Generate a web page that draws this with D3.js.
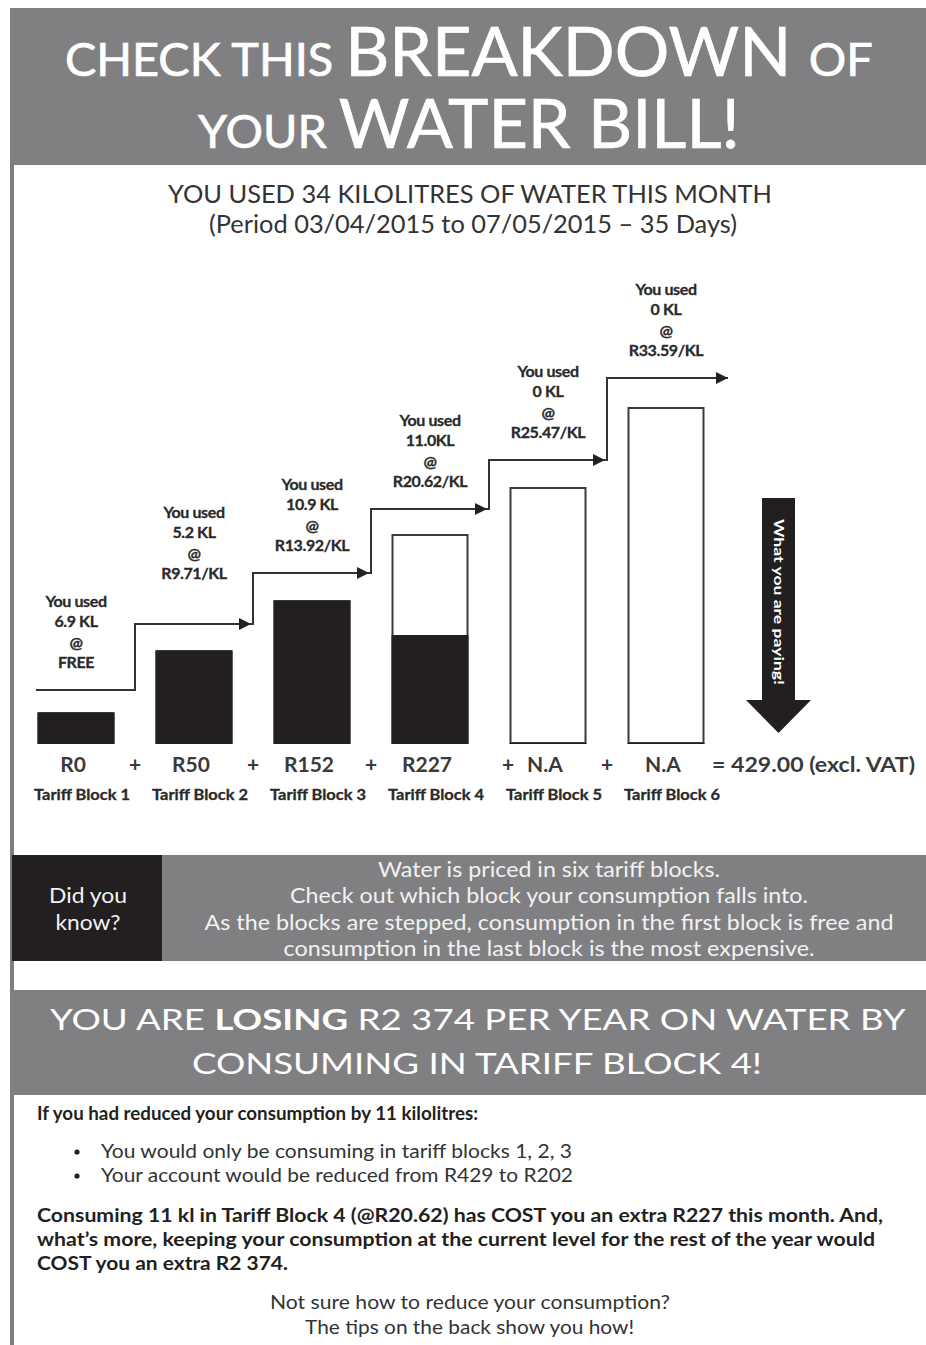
<!DOCTYPE html>
<html>
<head>
<meta charset="utf-8">
<title>Water bill breakdown</title>
<script src="https://cdn.jsdelivr.net/npm/d3@7"></script>
<style>
  html, body { margin: 0; padding: 0; background: #ffffff; }
  svg { display: block; }
</style>
</head>
<body>
<svg id="chart" width="926" height="1345"></svg>
<script>
// ---- data -------------------------------------------------------------
const blocks = ["Tariff Block 1", "Tariff Block 2", "Tariff Block 3",
                "Tariff Block 4", "Tariff Block 5", "Tariff Block 6"];
const usedText = ["6.9 KL", "5.2 KL", "10.9 KL", "11.0KL", "0 KL", "0 KL"];
const rateText = ["FREE", "R9.71/KL", "R13.92/KL", "R20.62/KL", "R25.47/KL", "R33.59/KL"];
const costText = ["R0", "R50", "R152", "R227", "N.A", "N.A"];
const totalText = "= 429.00 (excl. VAT)";
// bar heights (block size index) and the part of each block that was used
const blockSize = [30, 92, 142, 208, 255, 335];
const blockUsed = [30, 92, 142, 108, 0, 0];
// staircase showing the rising price per block
const priceStep = [53, 119, 170, 234, 283, 365];

const titleLines = [
  [["CHECK THIS ", 46], ["BREAKDOWN ", 67], ["OF", 46]],
  [["YOUR ", 46], ["WATER BILL!", 67]]
];
const tipLines = [
  "Water is priced in six tariff blocks.",
  "Check out which block your consumption falls into.",
  "As the blocks are stepped, consumption in the first block is free and",
  "consumption in the last block is the most expensive."
];
const bulletLines = [
  "You would only be consuming in tariff blocks 1, 2, 3",
  "Your account would be reduced from R429 to R202"
];
const costLines = [
  "Consuming 11 kl in Tariff Block 4 (@R20.62) has COST you an extra R227 this month. And,",
  "what\u2019s more, keeping your consumption at the current level for the rest of the year would",
  "COST you an extra R2 374."
];

// ---- setup ------------------------------------------------------------
const svg = d3.select("#chart");
const GRAY = "#808082", INK = "#231f20", TEXT = "#2a2a2a";
const FONT = "Lato, 'Open Sans', sans-serif";

// text with mixed tspans, squeezed/stretched to a given width
function fitLine(parent, parts, o) {
  const t = parent.append("text")
    .attr("fill", o.fill || TEXT)
    .attr("font-family", FONT);
  if (o.stroke) t.attr("stroke", o.fill).attr("stroke-width", o.stroke);
  parts.forEach(p => t.append("tspan")
    .attr("font-size", p[1])
    .attr("font-weight", p[2] || 400)
    .text(p[0]));
  const w = t.node().getComputedTextLength();
  const sx = o.width / w;
  const left = o.center !== undefined ? o.center - o.width / 2 : o.left;
  t.attr("transform", `translate(${left},${o.y}) scale(${sx},1)`);
  return t;
}
// single-style line with a fixed drawn length
function lenLine(parent, str, o) {
  return parent.append("text")
    .attr("x", o.x).attr("y", o.y)
    .attr("text-anchor", o.anchor || "start")
    .attr("font-family", FONT)
    .attr("font-size", o.size)
    .attr("font-weight", o.weight || 400)
    .attr("fill", o.fill || TEXT)
    .attr("textLength", o.width)
    .attr("lengthAdjust", "spacingAndGlyphs")
    .text(str);
}

// ---- page frame -------------------------------------------------------
svg.append("rect").attr("x", 10).attr("y", 160).attr("width", 4).attr("height", 1185).attr("fill", "#7e7e80");
svg.append("rect").attr("x", 10).attr("y", 8).attr("width", 916).attr("height", 157).attr("fill", GRAY);

// two-line title set as one text block; each line's sizes are scaled to its width
{
  const lineLeft = [65, 198], lineWidth = [808, 542], lineBase = [76, 148];
  const title = svg.append("text")
    .attr("font-family", FONT).attr("fill", "#ffffff")
    .attr("stroke", "#ffffff").attr("stroke-width", 0.7);
  titleLines.forEach((parts, li) => {
    const probe = svg.append("text").attr("font-family", FONT);
    parts.forEach(p => probe.append("tspan").attr("font-size", p[1]).text(p[0]));
    const k = lineWidth[li] / probe.node().getComputedTextLength();
    probe.remove();
    parts.forEach((p, pi) => {
      const ts = title.append("tspan").attr("font-size", p[1] * k).text(p[0]);
      if (pi === 0) ts.attr("x", lineLeft[li]).attr("y", lineBase[li]);
    });
  });
}

lenLine(svg, "YOU USED 34 KILOLITRES OF WATER THIS MONTH",
  { x: 168, y: 203, size: 25, width: 604, fill: "#333" });
lenLine(svg, "(Period 03/04/2015 to 07/05/2015 \u2013 35 Days)",
  { x: 209, y: 233, size: 25, width: 528, fill: "#333" });

// ---- chart ------------------------------------------------------------
const x = d3.scalePoint().domain(blocks).range([76, 666]);
const y = d3.scaleLinear().domain([0, 350]).range([743, 393]);
const barW = 75;
const chart = svg.append("g");

const bars = chart.selectAll("g.bar").data(blocks).join("g").attr("class", "bar");
bars.append("rect")
  .attr("x", d => x(d) - barW / 2)
  .attr("y", (d, i) => y(blockSize[i]))
  .attr("width", barW)
  .attr("height", (d, i) => y(0) - y(blockSize[i]))
  .attr("fill", "#ffffff")
  .attr("stroke", "#3a3a3a")
  .attr("stroke-width", 2);
bars.append("rect")
  .attr("x", d => x(d) - barW / 2 - 1)
  .attr("y", (d, i) => y(blockUsed[i]))
  .attr("width", barW + 2)
  .attr("height", (d, i) => y(0) - y(blockUsed[i]) + 1)
  .attr("fill", INK);

// staircase of prices with arrowheads
const mid = i => (x(blocks[i]) + x(blocks[i + 1])) / 2;
const stepEnd = i => i < blocks.length - 1 ? mid(i) : x(blocks[i]) + 62;
let path = d3.path();
path.moveTo(x(blocks[0]) - 40, y(priceStep[0]));
priceStep.forEach((v, i) => {
  path.lineTo(stepEnd(i), y(v));
  if (i < priceStep.length - 1) path.lineTo(stepEnd(i), y(priceStep[i + 1]));
});
chart.append("path").attr("d", path.toString())
  .attr("fill", "none").attr("stroke", "#333").attr("stroke-width", 2);
priceStep.forEach((v, i) => {
  if (i === 0) return;
  const tip = i < priceStep.length - 1 ? stepEnd(i) - 2 : stepEnd(i);
  const yy = y(v);
  chart.append("path")
    .attr("d", `M${tip},${yy} L${tip - 12},${yy - 6} L${tip - 12},${yy + 6} Z`)
    .attr("fill", "#222");
});

// usage labels above each step
const labelRaise = i => (i === 1 ? 45 : 22);
const labels = chart.selectAll("g.lbl").data(blocks).join("g")
  .attr("class", "lbl")
  .attr("transform", (d, i) => `translate(${x(d)},${y(priceStep[i]) - labelRaise(i)})`);
labels.each(function (d, i) {
  const lines = ["You used", usedText[i], "@", rateText[i]];
  d3.select(this).selectAll("text").data(lines).join("text")
    .attr("x", 0)
    .attr("y", (t, k) => (k - 3) * 20.5)
    .attr("text-anchor", "middle")
    .attr("font-family", FONT)
    .attr("font-weight", 700)
    .attr("font-size", 16)
    .attr("letter-spacing", -0.4)
    .attr("fill", TEXT)
    .attr("stroke", TEXT)
    .attr("stroke-width", 0.3)
    .text(t => t);
});

// cost per block and sum
chart.selectAll("text.cost").data(blocks).join("text")
  .attr("class", "cost")
  .attr("x", d => x(d) - 3)
  .attr("y", 772)
  .attr("text-anchor", "middle")
  .attr("font-family", FONT).attr("font-size", 21).attr("font-weight", 700)
  .attr("fill", "#3a3a3a")
  .text((d, i) => costText[i]);
const plusNudge = i => (i === 3 ? 19 : 0);
chart.selectAll("text.plus").data(d3.range(blocks.length - 1)).join("text")
  .attr("class", "plus")
  .attr("x", i => mid(i) + plusNudge(i))
  .attr("y", 772)
  .attr("text-anchor", "middle")
  .attr("font-family", FONT).attr("font-size", 21).attr("font-weight", 700)
  .attr("fill", "#3a3a3a")
  .text("+");
lenLine(chart, totalText, { x: 712, y: 772, size: 21, weight: 700, width: 203, fill: "#3a3a3a" });

chart.selectAll("text.blk").data(blocks).join("text")
  .attr("class", "blk")
  .attr("x", d => x(d) + 6)
  .attr("y", 800)
  .attr("text-anchor", "middle")
  .attr("font-family", FONT).attr("font-size", 15).attr("font-weight", 700)
  .attr("fill", TEXT)
  .attr("stroke", TEXT).attr("stroke-width", 0.3)
  .attr("textLength", 96).attr("lengthAdjust", "spacingAndGlyphs")
  .text(d => d);

// "What you are paying!" down arrow
const ax = x(blocks[5]) + 112.5;
const arrow = chart.append("g");
arrow.append("path")
  .attr("d", `M${ax - 16.5},${y(245)} L${ax + 16.5},${y(245)} L${ax + 16.5},${y(43)}
              L${ax + 32.5},${y(43)} L${ax},${y(10)} L${ax - 32.5},${y(43)}
              L${ax - 16.5},${y(43)} Z`)
  .attr("fill", INK);
arrow.append("text")
  .attr("transform", `translate(${ax - 5},${(y(245) + y(43)) / 2 + 3}) rotate(90)`)
  .attr("text-anchor", "middle")
  .attr("font-family", FONT).attr("font-size", 14).attr("font-weight", 700)
  .attr("fill", "#ffffff")
  .attr("textLength", 166).attr("lengthAdjust", "spacingAndGlyphs")
  .text("What you are paying!");

// ---- "Did you know?" band -----------------------------------------------
svg.append("rect").attr("x", 162).attr("y", 855).attr("width", 764).attr("height", 106).attr("fill", GRAY);
svg.append("rect").attr("x", 12).attr("y", 855).attr("width", 150).attr("height", 106).attr("fill", INK);
lenLine(svg, "Did you", { x: 88, y: 903, size: 21, width: 78, anchor: "middle", fill: "#f2f2f2" });
lenLine(svg, "know?", { x: 88, y: 930, size: 21, width: 65, anchor: "middle", fill: "#f2f2f2" });
const tipW = [342, 518, 689, 531];
const tipY = [877, 903, 930, 956];
tipLines.forEach((t, i) =>
  lenLine(svg, t, { x: 549, y: tipY[i], size: 21, width: tipW[i], anchor: "middle", fill: "#f2f2f2" }));

// ---- savings section ----------------------------------------------------
svg.append("rect").attr("x", 10).attr("y", 990).attr("width", 916).attr("height", 105).attr("fill", GRAY);
fitLine(svg, [["YOU ARE ", 29, 400], ["LOSING", 29, 700], [" R2 374 PER YEAR ON WATER BY", 29, 400]],
  { left: 50, width: 856, y: 1030, fill: "#ffffff" });
fitLine(svg, [["CONSUMING IN TARIFF BLOCK 4!", 29, 400]],
  { left: 192, width: 570, y: 1074, fill: "#ffffff" });

lenLine(svg, "If you had reduced your consumption by 11 kilolitres:",
  { x: 37, y: 1120, size: 18, weight: 700, width: 441, fill: INK });
const bulletW = [471, 472];
const bulletY = [1158, 1182];
bulletLines.forEach((t, i) => {
  svg.append("circle").attr("cx", 77).attr("cy", bulletY[i] - 6).attr("r", 2.6).attr("fill", INK);
  lenLine(svg, t, { x: 101, y: bulletY[i], size: 19, width: bulletW[i], fill: "#333" });
});
const costW = [846, 838, 251];
const costY = [1222, 1246, 1270];
costLines.forEach((t, i) =>
  lenLine(svg, t, { x: 37, y: costY[i], size: 19, weight: 700, width: costW[i], fill: INK }));

lenLine(svg, "Not sure how to reduce your consumption?",
  { x: 470, y: 1309, size: 19, width: 400, anchor: "middle", fill: "#333" });
lenLine(svg, "The tips on the back show you how!",
  { x: 469.5, y: 1334, size: 19, width: 329, anchor: "middle", fill: "#333" });
</script>
</body>
</html>
